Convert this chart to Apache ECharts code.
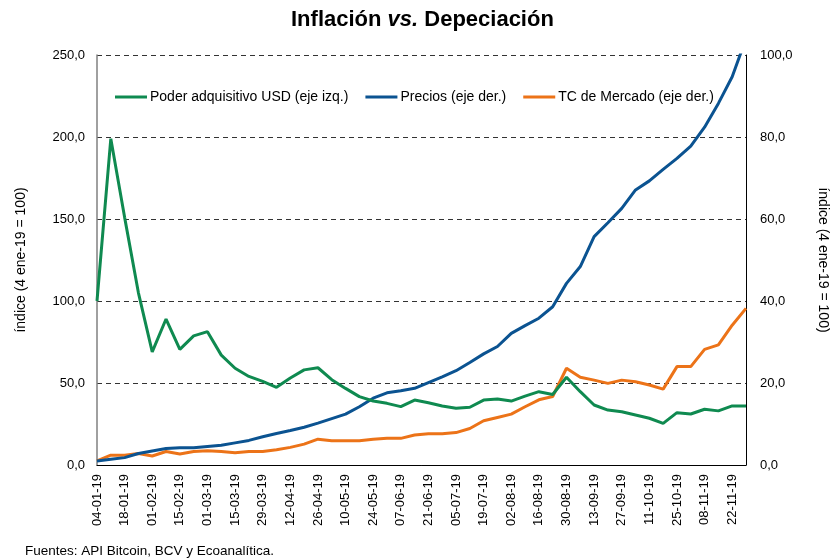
<!DOCTYPE html>
<html>
<head>
<meta charset="utf-8">
<script src="https://cdn.jsdelivr.net/npm/echarts@6/dist/echarts.min.js"></script>
<style>
html,body{margin:0;padding:0;background:#fff;overflow:hidden;}
#chart{width:832px;height:558px;}
</style>
</head>
<body>
<div id="chart"></div>
<script>
const categories = ['04-01-19','11-01-19','18-01-19','25-01-19','01-02-19','08-02-19','15-02-19','22-02-19',
 '01-03-19','08-03-19','15-03-19','22-03-19','29-03-19','05-04-19','12-04-19','19-04-19','26-04-19',
 '03-05-19','10-05-19','17-05-19','24-05-19','31-05-19','07-06-19','14-06-19','21-06-19','28-06-19',
 '05-07-19','12-07-19','19-07-19','26-07-19','02-08-19','09-08-19','16-08-19','23-08-19','30-08-19',
 '06-09-19','13-09-19','20-09-19','27-09-19','04-10-19','11-10-19','18-10-19','25-10-19','01-11-19',
 '08-11-19','15-11-19','22-11-19','29-11-19'];

const poderAdquisitivo = [100,199,151,105,69,89,70.5,78.7,81.3,67,59,54,51,47.4,53,58,59.3,
 52,46.7,41.7,39,37.6,35.6,39.6,38,36,34.6,35.2,39.6,40.2,39,42,44.7,43,53.5,
 44.7,36.6,33.5,32.5,30.5,28.5,25.4,31.9,31.1,34,33,36,36];

const precios = [1.0,1.4,1.8,2.8,3.4,4.0,4.2,4.2,4.5,4.8,5.4,6.0,6.9,7.7,8.4,9.2,10.2,
 11.3,12.4,14.2,16.3,17.6,18.1,18.7,20.1,21.5,23,25,27.1,28.9,32.1,34,35.8,38.6,44.3,
 48.4,55.7,59.1,62.6,67.1,69.3,72.1,74.8,77.8,82.4,88.2,94.7,104];

const tcMercado = [1.0,2.4,2.4,2.8,2.2,3.3,2.7,3.3,3.5,3.3,3.0,3.3,3.3,3.7,4.3,5.1,6.3,
 5.9,5.9,5.9,6.3,6.5,6.5,7.3,7.6,7.6,7.9,8.9,10.8,11.6,12.4,14.2,15.9,16.7,23.6,
 21.4,20.7,19.9,20.7,20.3,19.5,18.5,24,24,28.2,29.3,34.1,38.2];

const leftTicks = {min:0, max:250, interval:50};
const rightTicks = {min:0, max:100, interval:20};

const FONT = '"Liberation Sans", Arial, sans-serif';
const fmt = v => v.toFixed(1).replace('.', ',');
const lineIcon = 'path://M0,5 L32,5 L32,8 L0,8 Z';

const chart = echarts.init(document.getElementById('chart'), null, {renderer:'canvas'});
chart.setOption({
  animation:false,
  backgroundColor:'#fff',
  textStyle:{fontFamily:FONT},
  title:[{
    text:'{b|Inflación }{i|vs.}{b| Depeciación}',
    left:286, top:4,
    textStyle:{
      rich:{
        b:{fontFamily:FONT,fontWeight:'bold',fontSize:22,color:'#000'},
        i:{fontFamily:FONT,fontWeight:'bold',fontStyle:'italic',fontSize:22,color:'#000'}
      }
    }
  },{
    text:'Fuentes: API Bitcoin, BCV y Ecoanalítica.',
    left:20, top:539,
    textStyle:{fontFamily:FONT,fontWeight:'normal',fontSize:13.5,color:'#000'}
  }],
  legend:{
    top:85, left:110,
    itemWidth:32, itemHeight:12, itemGap:17,
    textStyle:{fontFamily:FONT,fontSize:14,color:'#000',padding:[0,0,0,-2]},
    data:[
      {name:'Poder adquisitivo USD (eje izq.)', icon:lineIcon},
      {name:'Precios (eje der.)', icon:lineIcon},
      {name:'TC de Mercado (eje der.)', icon:lineIcon}
    ]
  },
  grid:{left:97, right:86, top:55, bottom:93, containLabel:false, outerBoundsMode:'none'},
  xAxis:{
    type:'category', data:categories, boundaryGap:false,
    axisLine:{show:true, lineStyle:{color:'#000', width:1}},
    axisTick:{show:false},
    axisLabel:{interval:1, rotate:90, fontFamily:FONT, fontSize:13, color:'#000', margin:9},
    splitLine:{show:false}
  },
  yAxis:[{
    type:'value', min:leftTicks.min, max:leftTicks.max, interval:leftTicks.interval,
    name:'índice (4 ene-19 = 100)', nameLocation:'middle', nameGap:69,
    nameTextStyle:{fontFamily:FONT,fontSize:14,color:'#000'},
    axisLine:{show:true, lineStyle:{color:'#808080', width:1.5}},
    axisTick:{show:false},
    axisLabel:{formatter:fmt, fontFamily:FONT, fontSize:13, color:'#000', margin:12},
    splitLine:{show:true, lineStyle:{color:'#333', type:[5,4], width:1}}
  },{
    type:'value', min:rightTicks.min, max:rightTicks.max, interval:rightTicks.interval,
    position:'right',
    name:'índice (4 ene-19 = 100)', nameLocation:'middle', nameGap:70, nameRotate:-90,
    nameTextStyle:{fontFamily:FONT,fontSize:14,color:'#000'},
    axisLine:{show:true, lineStyle:{color:'#000', width:1}},
    axisTick:{show:false},
    axisLabel:{formatter:fmt, fontFamily:FONT, fontSize:13, color:'#000', margin:14},
    splitLine:{show:false}
  }],
  series:[
    {name:'Poder adquisitivo USD (eje izq.)', type:'line', yAxisIndex:0, data:poderAdquisitivo,
     symbol:'none', lineStyle:{color:'#0F8A50', width:3}, itemStyle:{color:'#0F8A50'}, z:4},
    {name:'Precios (eje der.)', type:'line', yAxisIndex:1, data:precios,
     symbol:'none', lineStyle:{color:'#0B5391', width:3}, itemStyle:{color:'#0B5391'}, z:3},
    {name:'TC de Mercado (eje der.)', type:'line', yAxisIndex:1, data:tcMercado,
     symbol:'none', lineStyle:{color:'#EC7318', width:3}, itemStyle:{color:'#EC7318'}, z:2}
  ]
});
</script>
</body>
</html>
